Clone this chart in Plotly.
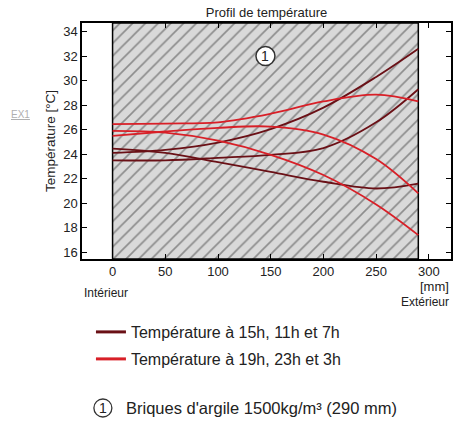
import plotly.graph_objects as go

# ---- data ----
depth_mm = [0, 50, 100, 150, 200, 250, 290]
t_15h = [24.1, 24.35, 24.95, 26.05, 27.8, 30.3, 32.6]
t_11h = [23.5, 23.5, 23.7, 23.95, 24.5, 26.6, 29.3]
t_7h = [24.45, 24.1, 23.35, 22.55, 21.75, 21.2, 21.6]
t_19h = [26.45, 26.5, 26.6, 27.3, 28.3, 28.85, 28.3]
t_23h = [25.5, 25.85, 26.15, 26.25, 25.6, 23.6, 20.8]
t_3h = [25.9, 25.75, 25.1, 23.95, 22.3, 19.9, 17.4]

wall_thickness = 290
x_ticks = [0, 50, 100, 150, 200, 250, 300]
y_ticks = [16, 18, 20, 22, 24, 26, 28, 30, 32, 34]
x_range = [-29, 321]
y_range = [15.45, 34.7]

legend_dark = "Température à 15h, 11h et 7h"
legend_red = "Température à 19h, 23h et 3h"
material_label = "Briques d'argile 1500kg/m³ (290 mm)"

DARK = "#6a1016"
RED = "#d81f27"
FONT = "Liberation Sans, Arial, sans-serif"
TXT = "#222222"

# plot area in pixels (for placing paper-referenced notes)
PL, PR, PT, PB = 82, 453, 23, 259


def px_x(px):
    return (px - PL) / (PR - PL)


def px_y(py):
    return (PB - py) / (PB - PT)


fig = go.Figure()

# wall (hatched)
fig.add_trace(go.Scatter(
    x=[0, wall_thickness, wall_thickness, 0, 0],
    y=[y_range[0], y_range[0], y_range[1], y_range[1], y_range[0]],
    mode="lines", fill="toself",
    line=dict(color="black", width=1.5),
    fillcolor="#d9d9d9",
    fillpattern=dict(shape="/", bgcolor="#d9d9d9", fgcolor="#8c8c8c",
                     size=9, solidity=0.18, fillmode="replace"),
    showlegend=False, hoverinfo="skip"))

for s in [t_15h, t_11h, t_7h]:
    fig.add_trace(go.Scatter(x=depth_mm, y=s, mode="lines",
                             line=dict(color=DARK, width=1.8, shape="spline", smoothing=1.0),
                             showlegend=False, name=legend_dark))
for s in [t_19h, t_23h, t_3h]:
    fig.add_trace(go.Scatter(x=depth_mm, y=s, mode="lines",
                             line=dict(color=RED, width=1.8, shape="spline", smoothing=1.0),
                             showlegend=False, name=legend_red))

# legend-only entries (thicker symbol lines)
fig.add_trace(go.Scatter(x=[None], y=[None], mode="lines", line=dict(color=DARK, width=3),
                         name=legend_dark, legend="legend"))
fig.add_trace(go.Scatter(x=[None], y=[None], mode="lines", line=dict(color=RED, width=3),
                         name=legend_red, legend="legend2"))

# circle marker "1" inside wall
fig.add_shape(type="circle", xref="x", yref="y",
              xsizemode="pixel", ysizemode="pixel",
              xanchor=wall_thickness / 2, yanchor=32.0,
              x0=-9.5, x1=9.5, y0=-9.5, y1=9.5,
              line=dict(color="#333333", width=1.5), fillcolor="white")
fig.add_annotation(x=wall_thickness / 2, y=32.0, xref="x", yref="y", text="1",
                   showarrow=False, xanchor="center", yanchor="middle",
                   font=dict(family=FONT, size=14, color=TXT))

# bottom material note with circled 1
fig.add_shape(type="circle", xref="paper", yref="paper",
              xsizemode="pixel", ysizemode="pixel",
              xanchor=px_x(103), yanchor=px_y(408),
              x0=-9, x1=9, y0=-9, y1=9,
              line=dict(color="#333333", width=1.3), fillcolor="white")
fig.add_annotation(x=px_x(103), y=px_y(408), xref="paper", yref="paper",
                   text="1", showarrow=False, xanchor="center", yanchor="middle",
                   font=dict(family=FONT, size=14, color=TXT))
fig.add_annotation(x=px_x(124), y=px_y(408), xref="paper", yref="paper",
                   text=material_label, showarrow=False, xanchor="left", yanchor="middle",
                   font=dict(family=FONT, size=16.5, color=TXT))

# axis side notes
fig.add_annotation(x=0, y=px_y(293), xref="paper", yref="paper", text="Intérieur",
                   showarrow=False, xanchor="left", yanchor="middle",
                   font=dict(family=FONT, size=12, color=TXT))
fig.add_annotation(x=1, y=px_y(302), xref="paper", yref="paper", text="Extérieur",
                   showarrow=False, xanchor="right", yanchor="middle",
                   font=dict(family=FONT, size=12, color=TXT))
fig.add_annotation(x=1, y=px_y(286), xref="paper", yref="paper", text="[mm]",
                   showarrow=False, xanchor="right", yanchor="middle",
                   font=dict(family=FONT, size=13, color=TXT))
fig.add_annotation(x=px_x(20), y=px_y(115), xref="paper", yref="paper",
                   text="<u>EX1</u>", showarrow=False, xanchor="center", yanchor="middle",
                   font=dict(family=FONT, size=10, color="#b0b0b0"))

axis_common = dict(showline=True, linecolor="black", linewidth=1.5, mirror="ticks",
                   ticks="inside", ticklen=5, tickcolor="black", tickwidth=1.2,
                   showgrid=False, zeroline=False,
                   tickfont=dict(family=FONT, size=13, color=TXT))

legend_common = dict(xanchor="left", yanchor="middle", bgcolor="rgba(0,0,0,0)",
                     font=dict(family=FONT, size=16, color=TXT), borderwidth=0)

fig.update_layout(
    width=459, height=423,
    margin=dict(l=PL, r=459 - PR, t=PT, b=423 - PB),
    paper_bgcolor="white", plot_bgcolor="white",
    title=dict(text="Profil de température", x=0.5, xref="paper", y=1 - 12 / 423,
               yref="container", yanchor="middle", xanchor="center",
               font=dict(family=FONT, size=13, color=TXT)),
    xaxis=dict(range=x_range, tickvals=x_ticks, **axis_common),
    yaxis=dict(range=y_range, tickvals=y_ticks,
               title=dict(text="Température [°C]", font=dict(family=FONT, size=13.5, color=TXT),
                          standoff=4), **axis_common),
    legend=dict(x=px_x(91), y=px_y(332), **legend_common),
    legend2=dict(x=px_x(91), y=px_y(359), **legend_common),
)

fig.write_html("out.html")
